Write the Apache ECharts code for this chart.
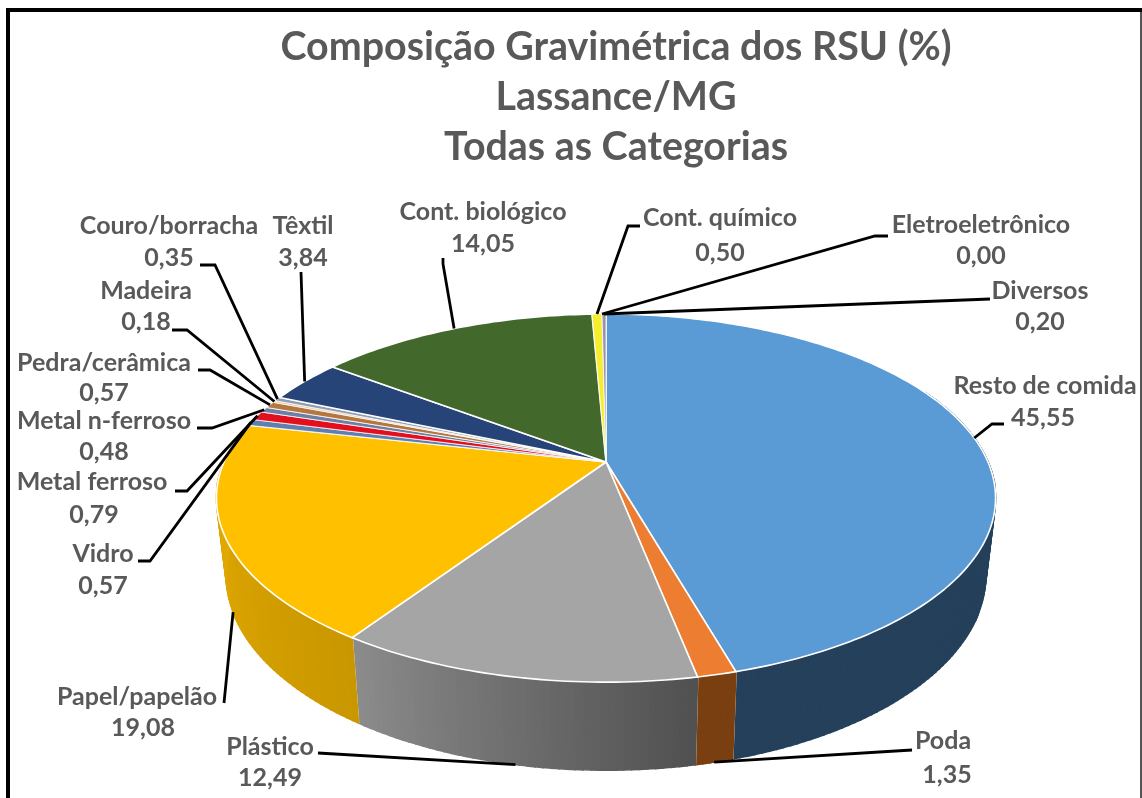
<!DOCTYPE html>
<html><head><meta charset="utf-8">
<style>html,body{margin:0;padding:0;background:#fff}#c{width:1142px;height:798px}</style>
<script src="https://cdn.jsdelivr.net/npm/echarts@6/dist/echarts.min.js"></script>
</head><body><div id="c"></div>
<script>
const titleLines = ['Composição Gravimétrica dos RSU (%)', 'Lassance/MG', 'Todas as Categorias'];
const categories = ['Resto de comida','Poda','Plástico','Papel/papelão','Vidro','Metal ferroso','Metal n-ferroso','Pedra/cerâmica','Madeira','Couro/borracha','Têxtil','Cont. biológico','Cont. químico','Eletroeletrônico','Diversos'];
const values = [45.55,1.35,12.49,19.08,0.57,0.79,0.48,0.57,0.18,0.35,3.84,14.05,0.50,0.00,0.20];
const topColors = ['#5B9BD5','#ED7D31','#A5A5A5','#FFC000','#5F7FAE','#E2101E','#6C7FA6','#B5773F','#EBC48E','#8E9DB8','#264478','#43682B','#F4EE2E','#7CAFDD','#9C90B4'];
const wallColors = {0:['#25405A','#25405A'],1:['#7A3F10','#7A3F10'],2:['#505050','#8C8C8C'],3:['#C99700','#EBB000']};

// layout of the drawn pie (perspective disc)
const CX=606, CY=462, RX=382, RY=177, PERSP=0.196;
const BOT={sx:0.975, sy:1.06, y0:498, y1:575};
// label layout: [textX,nameY,valueTextX,valueY], leader start, leader elbow, rim ('t' top / 'b' bottom)
const labelPos = [[1045,386,1043,418],[943,741,947,775],[270,747,270,778],[137,697,143,728],[103,554,103,586],[92,482,94,515],[104,421,104,452],[104,363,104,393],[146,291,146,322],[169,226,169,258],[303,226,303,258],[483,212,483,244],[720,218,720,253],[981,225,981,256],[1040,291,1040,322]];
const leaderStart = [[1004,424],[912,750],[318,753],[224,703],[138,561],[175,491],[197,428],[198,370],[172,330],[200,265],[301,272],[443,258],[640,226],[888,236],[990,299]];
const leaderElbow = [[992,424],null,null,null,[150,561],[187,491],[212,428],[210,370],[187,330],[215,265],null,[443,264],[628,226],[875,236],null];
const leaderRim = ['t','b','b','b','t','t','t','t','t','t','t','t','t','t','t'];

const total = values.reduce((a,b)=>a+b,0);
const starts=[]; { let s=0; for(const v of values){ starts.push(s); s+=v/total*360; } }
const rad=d=>d*Math.PI/180;
function topPt(deg){ const u=Math.sin(rad(deg)), v=-Math.cos(rad(deg)), d=1-PERSP*v; return [CX+RX*u/d, CY+RY*v/d]; }
function botPt(deg){ const p=topPt(deg); return [CX+BOT.sx*(p[0]-CX), BOT.y1+BOT.sy*(p[1]-BOT.y0)]; }
function hex(c){ return [1,3,5].map(i=>parseInt(c.substr(i,2),16)); }
function mix(a,b,t){ const A=hex(a),B=hex(b); return 'rgb('+A.map((x,i)=>Math.round(x+(B[i]-x)*t)).join(',')+')'; }
const WALL_FROM=65, WALL_TO=290;

function renderWall(params, api){
  const i=params.dataIndex, v=api.value(0), a0=starts[i], a1=a0+v/total*360;
  const s=Math.max(a0,WALL_FROM), e=Math.min(a1,WALL_TO);
  const children=[];
  if(!wallColors[i]||e<=s) return {type:'group',children};
  const n=Math.ceil((e-s)/1), wc=wallColors[i];
  for(let k=0;k<n;k++){
    const p=s+(e-s)*k/n, q=s+(e-s)*(k+1)/n, col=mix(wc[0],wc[1],(k+0.5)/n);
    children.push({type:'polygon',shape:{points:[topPt(p),topPt(q),botPt(q),botPt(p)]},style:{fill:col,stroke:col,lineWidth:1.6}});
  }
  if(i<3) children.push({type:'line',shape:{x1:topPt(e)[0],y1:topPt(e)[1],x2:botPt(e)[0],y2:botPt(e)[1]},style:{stroke:'#FFF6DC',lineWidth:1.8}});
  return {type:'group',children};
}
function renderTop(params, api){
  const i=params.dataIndex, v=api.value(0), a0=starts[i], a1=a0+v/total*360;
  if(v<=0) return {type:'group',children:[]};
  const pts=[[CX,CY]], n=Math.max(2,Math.ceil((a1-a0)/1));
  for(let k=0;k<=n;k++) pts.push(topPt(a0+(a1-a0)*k/n));
  const wide=v>1;
  return {type:'polygon',shape:{points:pts},style:{fill:topColors[i],stroke:'#FFFFFF',lineWidth:wide?1.6:0.8,lineJoin:'round'}};
}
function renderLabel(params, api){
  const i=params.dataIndex, v=api.value(0), mid=starts[i]+v/total*180;
  const end=leaderRim[i]==='b'?botPt(mid):topPt(mid);
  const pts=[leaderStart[i]]; if(leaderElbow[i]) pts.push(leaderElbow[i]); pts.push(end);
  const lp=labelPos[i], font='700 25px Lato, Carlito, sans-serif';
  return {type:'group',children:[
    {type:'polyline',shape:{points:pts},style:{stroke:'#000000',lineWidth:2.8,fill:'none'}},
    {type:'text',style:{text:categories[i],x:lp[0],y:lp[1],fill:'#595959',font,align:'center',verticalAlign:'middle'}},
    {type:'text',style:{text:v.toFixed(2).replace('.',','),x:lp[2],y:lp[3],fill:'#595959',font,align:'center',verticalAlign:'middle'}}
  ]};
}
const seriesData=values.map((v,i)=>({name:categories[i],value:[v]}));
const chart=echarts.init(document.getElementById('c'),null,{renderer:'canvas'});
chart.setOption({
  animation:false,
  backgroundColor:'#FFFFFF',
  title:{text:titleLines.join('\n'),left:611,top:17,textAlign:'center',
    textStyle:{color:'#595959',fontFamily:'Lato, Carlito, sans-serif',fontWeight:700,fontSize:39.4,lineHeight:50}},
  tooltip:{show:false},
  graphic:[
    {type:'rect',shape:{x:6,y:8,width:1136,height:4},style:{fill:'#000'},silent:true},
    {type:'rect',shape:{x:6,y:8,width:4,height:790},style:{fill:'#000'},silent:true},
    {type:'rect',shape:{x:1140,y:12,width:2,height:786},style:{fill:'#555'},silent:true}
  ],
  series:[
    {type:'custom',name:'walls',coordinateSystem:'none',renderItem:renderWall,data:seriesData,z:1,silent:true},
    {type:'custom',name:'top',coordinateSystem:'none',renderItem:renderTop,data:seriesData,z:2,silent:true},
    {type:'custom',name:'labels',coordinateSystem:'none',renderItem:renderLabel,data:seriesData,z:3,silent:true}
  ]
});
</script></body></html>
